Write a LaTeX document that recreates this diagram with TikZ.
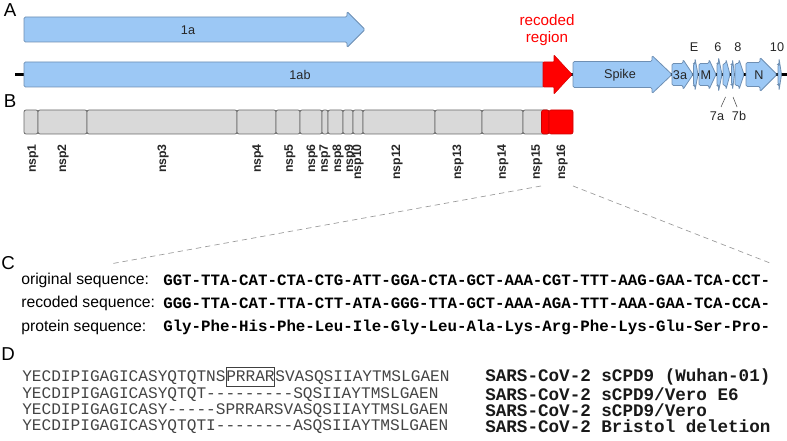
\documentclass[tikz,border=0pt]{standalone}
\usepackage{fontspec}
\setmainfont{Liberation Sans}
\setsansfont{Liberation Sans}
\setmonofont{Liberation Mono}
\definecolor{geneblue}{HTML}{9CC8F5}
\definecolor{geneedge}{HTML}{6E8FB3}
\definecolor{nspgray}{HTML}{D9D9D9}
\definecolor{nspedge}{HTML}{6A6A6A}
\definecolor{recred}{HTML}{FF0000}
\definecolor{alngray}{HTML}{444444}
\newcommand\genearrow[7]{%
  \draw[#1] (#2,#5-#6) -- (#3,#5-#6) -- (#3,#5-#7) -- (#4,#5) -- (#3,#5+#7) -- (#3,#5+#6) -- (#2,#5+#6) -- cycle;}
\begin{document}
\begin{tikzpicture}[x=0.75pt,y=-0.75pt,
  gene/.style={fill=geneblue, draw=geneedge, line width=0.6pt, rounded corners=1pt},
  redgene/.style={fill=recred, draw=recred!85!black, line width=0.4pt, rounded corners=0.5pt},
  lbl/.style={font=\fontsize{9.5}{11}\selectfont, text=black!85, inner sep=0pt},
  panel/.style={font=\fontsize{14}{16}\selectfont, inner sep=0pt},
  nsp/.style={rotate=90, anchor=east, font=\bfseries\fontsize{9.2}{10}\selectfont, text=black!85, inner sep=0pt},
  nspbox/.style={fill=nspgray, draw=nspedge, line width=0.6pt, rounded corners=1.5pt},
  redbox/.style={fill=recred, draw=recred!80!black, line width=0.5pt, rounded corners=1.5pt},
  seqlbl/.style={anchor=west, font=\fontsize{11.8}{14}\selectfont, inner sep=0pt},
  seqC/.style={anchor=west, font=\ttfamily\bfseries\fontsize{11.85}{14}\selectfont, inner sep=0pt},
  seqD/.style={anchor=west, font=\ttfamily\fontsize{12.1}{14}\selectfont, text=alngray, inner xsep=0pt, inner ysep=1.6pt, text height=8.6pt, text depth=2.6pt},
  nameD/.style={anchor=west, font=\ttfamily\bfseries\fontsize{13.2}{15}\selectfont, text=black!90, inner sep=0pt},
  zoomline/.style={draw=gray!80, line width=0.5pt, dash pattern=on 4pt off 3pt},
  tick/.style={draw=black!70, line width=0.4pt}
]
\useasboundingbox (0,0) rectangle (787,441);

% ---------- Panel A ----------
\node[panel] (A) at (10,10) {A};
\draw[line width=2.2pt] (15,74.5) -- (787,74.5);
\genearrow{gene}{24}{347}{365}{29.5}{12.5}{18}
\node[lbl] (g1a) at (188,30) {1a};
\draw[gene] (24,62) rectangle (544,87);
\node[lbl] (g1ab) at (300,74.5) {1ab};
\genearrow{redgene}{543}{554}{572}{74.5}{12.5}{19.5}
\node[font=\fontsize{11.4}{13}\selectfont, text=recred, align=center, inner sep=0pt] (rec) at (547,30) {recoded\\[-0.5pt]region};
\genearrow{gene}{573}{652}{672}{74.5}{13}{19}
\node[lbl] (spike) at (620,75) {Spike};
\genearrow{gene}{672}{683}{693}{74.5}{11}{15}
\node[lbl] (g3a) at (680,75) {3a};
\genearrow{gene}{693.5}{695}{698}{74.5}{11}{16}
\genearrow{gene}{699}{709}{716}{74.5}{11}{15}
\node[lbl] (gM) at (706,75) {M};
\genearrow{gene}{717}{718.5}{722}{74.5}{11}{17}
\genearrow{gene}{723}{726}{730}{74.5}{11}{15}
\genearrow{gene}{731.5}{732.5}{734.5}{74.5}{10}{15}
\genearrow{gene}{735}{739}{744}{74.5}{11}{15}
\genearrow{gene}{746}{760}{777}{74.5}{12}{17}
\node[lbl] (gN) at (759,75) {N};
\genearrow{gene}{778}{779}{781.5}{74.5}{10}{16}
\node[lbl] (lE) at (694,47) {E};
\node[lbl] (l6) at (718,47) {6};
\node[lbl] (l8) at (738,47) {8};
\node[lbl] (l10) at (777,47) {10};
\node[lbl] (l7a) at (717,116) {7a};
\node[lbl] (l7b) at (739,116) {7b};
\coordinate (g7a) at (725.5,97);
\coordinate (g7b) at (733,97);
\coordinate (e7a) at (721,107);
\coordinate (e7b) at (737,107);
\draw[tick] (g7a) -- (e7a);
\draw[tick] (g7b) -- (e7b);

% ---------- Panel B ----------
\node[panel] (B) at (10,101) {B};
\foreach \a/\b in {24/38, 38/87, 87/237, 237/276, 276/300, 300/322, 322/328, 328/343, 343/353, 353/363, 363/435, 435/482, 482/523, 523/549}
  \draw[nspbox] (\a,110) rectangle (\b,134);
\draw[redbox] (541.5,110) rectangle (549,134);
\draw[redbox] (549,110) rectangle (573,134);
\foreach \n/\x in {1/33, 2/63, 3/163, 4/258, 5/290, 6/312, 7/325, 8/338, 9/350, 10/358, 12/397, 13/458, 14/503, 15/537, 16/562}
  \node[nsp] (nsp\n) at (\x,144) {nsp\n};

% ---------- zoom lines ----------
\coordinate (zl1) at (541,186);
\coordinate (zl2) at (110,264);
\coordinate (zr1) at (573,186);
\coordinate (zr2) at (770,263);
\draw[zoomline] (zl1) -- (zl2);
\draw[zoomline] (zr1) -- (zr2);

% ---------- Panel C ----------
\node[panel] (C) at (8,263) {C};
\node[seqlbl] (lo) at (21,280) {original sequence:};
\node[seqlbl] (lr) at (21,303) {recoded sequence:};
\node[seqlbl] (lp) at (21,327) {protein sequence:};
\node[seqC] (so) at (163,280) {GGT-TTA-CAT-CTA-CTG-ATT-GGA-CTA-GCT-AAA-CGT-TTT-AAG-GAA-TCA-CCT-};
\node[seqC] (sr) at (163,303) {GGG-TTA-CAT-TTA-CTT-ATA-GGG-TTA-GCT-AAA-AGA-TTT-AAA-GAA-TCA-CCA-};
\node[seqC] (sp) at (163,327) {Gly-Phe-His-Phe-Leu-Ile-Gly-Leu-Ala-Lys-Arg-Phe-Lys-Glu-Ser-Pro-};

% ---------- Panel D ----------
\node[panel] (D) at (8,354) {D};
\node[seqD] (d1a) at (22,377) {YECDIPIGAGICASYQTQTNS};
\node[seqD, draw=black!75, line width=0.6pt] (d1b) at (d1a.east) {PRRAR};
\node[seqD] (d1c) at (d1b.east) {SVASQSIIAYTMSLGAEN};
\node[seqD] (d2) at (22,394) {YECDIPIGAGICASYQTQT---------SQSIIAYTMSLGAEN};
\node[seqD] (d3) at (22,410) {YECDIPIGAGICASY-----SPRRARSVASQSIIAYTMSLGAEN};
\node[seqD] (d4) at (22,426) {YECDIPIGAGICASYQTQTI--------ASQSIIAYTMSLGAEN};
\node[nameD] (n1) at (485,377) {SARS-CoV-2 sCPD9 (Wuhan-01)};
\node[nameD] (n2) at (485,394) {SARS-CoV-2 sCPD9/Vero E6};
\node[nameD] (n3) at (485,410) {SARS-CoV-2 sCPD9/Vero};
\node[nameD] (n4) at (485,426) {SARS-CoV-2 Bristol deletion};
\end{tikzpicture}
\end{document}
